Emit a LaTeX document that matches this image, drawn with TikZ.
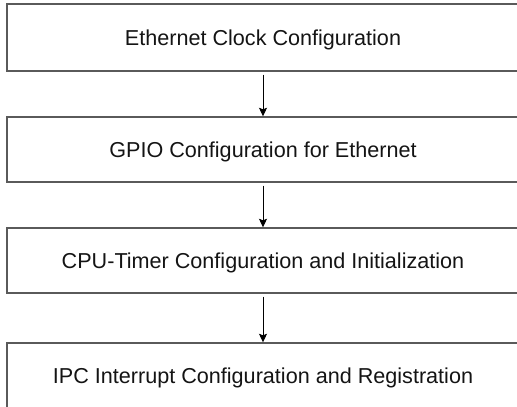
\documentclass[tikz,border=0pt]{standalone}
\usepackage{fontspec}
\setmainfont{Liberation Sans}
\usetikzlibrary{arrows.meta}
\definecolor{boxline}{RGB}{90,90,90}
\definecolor{txt}{RGB}{20,20,20}
\tikzset{
  stepbox/.style={draw=boxline, line width=1.4pt, rectangle, minimum width=512pt, inner sep=0pt,
    text depth=0pt, font=\fontsize{21.6}{26}\selectfont, text=txt},
  flow/.style={draw=black, line width=0.9pt, -{Stealth[length=8.5pt,width=8pt,inset=1.5pt]}, shorten <=3pt}
}
\begin{document}
\begin{tikzpicture}[x=1pt,y=-1pt]
\useasboundingbox (0,0) rectangle (517,407);
\clip (0,0) rectangle (517,407);
\node[stepbox, minimum height=67pt] (a) at (263,37.5) {Ethernet Clock Configuration};
\node[stepbox, minimum height=65pt] (b) at (263,149.5) {GPIO Configuration for Ethernet};
\node[stepbox, minimum height=65pt] (c) at (263,260.5) {CPU-Timer Configuration and Initialization};
\node[stepbox, minimum height=66pt] (d) at (263,376) {IPC Interrupt Configuration and Registration};
\draw[flow] (a.south) -- (b.north);
\draw[flow] (b.south) -- (c.north);
\draw[flow] (c.south) -- (d.north);
\end{tikzpicture}
\end{document}
